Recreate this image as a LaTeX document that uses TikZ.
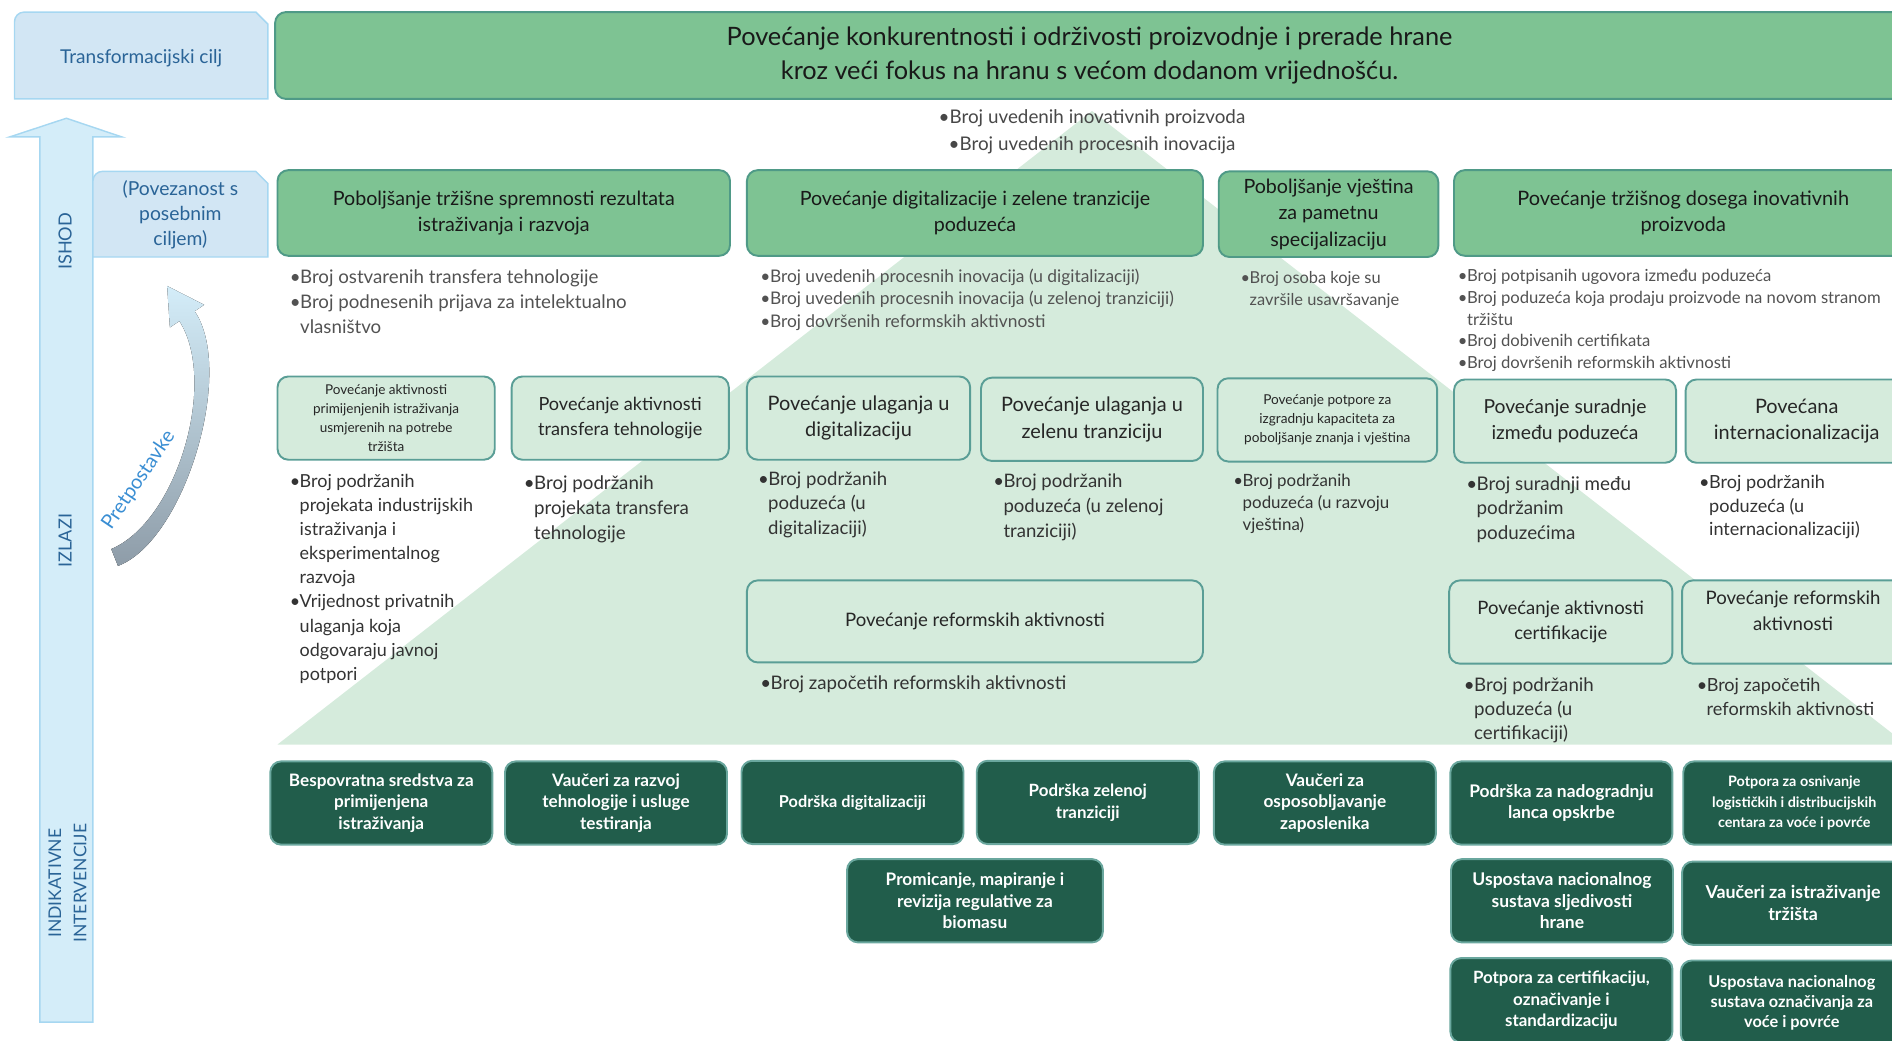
\documentclass[tikz,border=0pt]{standalone}
\usepackage{fontspec}
\setmainfont{Lato}
\usetikzlibrary{positioning}
\definecolor{skyfill}{HTML}{D2E6F4}
\definecolor{skyline}{HTML}{A6D7F1}
\definecolor{arrowfill}{HTML}{D4EDF9}
\definecolor{labelblue}{HTML}{2A6497}
\definecolor{pretblue}{HTML}{3A8ED3}
\definecolor{arrowtail}{HTML}{8E9CA8}
\definecolor{goalgreen}{HTML}{7EC393}
\definecolor{goalline}{HTML}{4F9A87}
\definecolor{palegreen}{HTML}{D5EBDC}
\definecolor{boxline}{HTML}{5A9E96}
\definecolor{actgreen}{HTML}{215D4B}
\definecolor{actline}{HTML}{6AA79E}
\newcommand{\fs}[2]{\fontsize{#1}{#2}\selectfont}
\newcommand{\bu}{\makebox[0.55em][l]{•}}
\newcommand{\ct}{\hspace*{0.55em}}

\begin{document}
\begin{tikzpicture}[x=1pt, y=-1pt,
  goalbox/.style={draw=goalline, fill=goalgreen, line width=1.6pt, rounded corners=9pt,
                  align=center, text=black!90, inner sep=0pt, minimum height=71pt},
  outbox/.style ={draw=boxline, fill=palegreen, line width=1.6pt, rounded corners=9pt,
                  align=center, text=black!85, inner sep=0pt, minimum width=182pt, minimum height=69pt},
  actbox/.style ={draw=actline, fill=actgreen, line width=1.6pt, rounded corners=9pt,
                  align=center, text=white, inner sep=0pt, minimum width=184pt, minimum height=69pt},
  ind/.style    ={anchor=north west, align=left, inner sep=0pt, text=black!80},
  softind/.style={ind, text=black!68},
  sidebox/.style={draw=skyline, fill=skyfill, line width=1.2pt},
  sidetxt/.style={text=labelblue, align=center, inner sep=0pt}
]
\useasboundingbox (0,0) rectangle (1568,862);
\clip (0,0) rectangle (1568,862);

% pyramid behind everything
\fill[palegreen] (230,617) -- (905,92) -- (1580,617) -- cycle;

% left column
\filldraw[sidebox] (12,82) -- (12,18) arc[start angle=180, end angle=270, radius=8]
  -- (212,10) -- (222,20) -- (222,82) -- cycle;
\node[sidetxt, font=\fs{15.8}{20}] (ciljlbl) at (117,48) {Transformacijski cilj};
\filldraw[draw=skyline, fill=arrowfill, line width=1.2pt] (33,847) -- (33,113.5) -- (8,113.5)
  -- (55,98) -- (101,113.5) -- (77,113.5) -- (77,847) -- cycle;
\filldraw[sidebox] (77,213) -- (77,150) arc[start angle=180, end angle=270, radius=8]
  -- (212,142) -- (222,152) -- (222,213) -- cycle;
\node[sidetxt, font=\fs{16}{20.5}] (vezalbl) at (149.5,178) {(Povezanost s\\posebnim\\ciljem)};
\node[sidetxt, rotate=90, font=\fs{15}{21}] (ishodlbl) at (54,200) {ISHOD};
\node[sidetxt, rotate=90, font=\fs{15}{21}] (izlazilbl) at (54,448) {IZLAZI};
\node[sidetxt, rotate=90, font=\fs{14.5}{21}] (intlbl) at (56,732) {INDIKATIVNE\\INTERVENCIJE};
\fill[top color=arrowfill, middle color=arrowfill, bottom color=arrowtail]
  (97.8,469) .. controls (153.2,448) and (195.2,307.3) .. (161.3,257.9) -- (169.2,252.6)
  -- (138.5,237) -- (140.8,271.4) -- (148.7,266.1) .. controls (180.8,316.7) and (146.8,432)
  .. (92.2,455) -- cycle;
\node[rotate=56, text=pretblue, inner sep=0pt, font=\fs{16.5}{18}] (pretlbl) at (115,398) {Pretpostavke};

% transformational goal
\node[goalbox, minimum width=1350pt, minimum height=72pt, font=\fs{21}{28}] (goal) at (903,46)
  {Povećanje konkurentnosti i održivosti proizvodnje i prerade hrane\\kroz veći fokus na hranu s većom dodanom vrijednošću.};
\node[align=center, inner sep=0pt, text=black!72, font=\fs{15.6}{22}] (goalind) at (905,109)
  {•Broj uvedenih inovativnih proizvoda\\•Broj uvedenih procesnih inovacija};

% ishod
\node[goalbox, minimum width=375pt, font=\fs{16.3}{22}] (ish1) at (417.5,176.5) {Poboljšanje tržišne spremnosti rezultata\\istraživanja i razvoja};
\node[goalbox, minimum width=378pt, font=\fs{16.3}{22}] (ish2) at (808,176.5) {Povećanje digitalizacije i zelene tranzicije\\poduzeća};
\node[goalbox, minimum width=182pt, font=\fs{16.3}{22}] (ish3) at (1101,177.5) {Poboljšanje vještina\\za pametnu\\specijalizaciju};
\node[goalbox, minimum width=380pt, font=\fs{16.5}{22}] (ish4) at (1395,176.5) {Povećanje tržišnog dosega inovativnih\\proizvoda};

\node[softind, font=\fs{15.5}{20.5}] (ish1ind) at (240,223.4) {\bu Broj ostvarenih transfera tehnologije\\\bu Broj podnesenih prijava za intelektualno\\\ct vlasništvo};
\node[softind, font=\fs{14.4}{18.5}] (ish2ind) at (630,222.8) {\bu Broj uvedenih procesnih inovacija (u digitalizaciji)\\\bu Broj uvedenih procesnih inovacija (u zelenoj tranziciji)\\\bu Broj dovršenih reformskih aktivnosti};
\node[softind, font=\fs{13.6}{18}] (ish3ind) at (1028,225) {\bu Broj osoba koje su\\\ct završile usavršavanje};
\node[softind, font=\fs{13.8}{18}] (ish4ind) at (1208,223) {\bu Broj potpisanih ugovora između poduzeća\\\bu Broj poduzeća koja prodaju proizvode na novom stranom\\\ct tržištu\\\bu Broj dobivenih certifikata\\\bu Broj dovršenih reformskih aktivnosti};

% izlazi
\node[outbox, minimum width=180pt, font=\fs{11.2}{15.7}] (izl1) at (320,346.5) {Povećanje aktivnosti\\primijenjenih istraživanja\\usmjerenih na potrebe\\tržišta};
\node[outbox, minimum width=180pt, font=\fs{15}{21}] (izl2) at (514,346.5) {Povećanje aktivnosti\\transfera tehnologije};
\node[outbox, minimum width=185pt, font=\fs{16.5}{22}] (izl3) at (711.5,346.5) {Povećanje ulaganja u\\digitalizaciju};
\node[outbox, minimum width=184pt, font=\fs{16.5}{22}] (izl4) at (905,347.5) {Povećanje ulaganja u\\zelenu tranziciju};
\node[outbox, font=\fs{11.3}{16}] (izl5) at (1100,348) {Povećanje potpore za\\izgradnju kapaciteta za\\poboljšanje znanja i vještina};
\node[outbox, minimum width=184pt, font=\fs{16}{21}] (izl6) at (1297,349) {Povećanje suradnje\\između poduzeća};
\node[outbox, minimum width=184pt, font=\fs{16.5}{21}] (izl7) at (1489,349) {Povećana\\internacionalizacija};
\node[outbox, minimum width=378pt, minimum height=68pt, font=\fs{15.4}{21}] (izl8) at (808,515) {Povećanje reformskih aktivnosti};
\node[outbox, minimum width=185pt, font=\fs{15.3}{21}] (izl9) at (1293.5,515.5) {Povećanje aktivnosti\\certifikacije};
\node[outbox, minimum width=184pt, font=\fs{15.4}{21}] (izl10) at (1486,515.5) {Povećanje reformskih\\aktivnosti\\[-2pt]\mbox{}};

\node[ind, font=\fs{14.9}{20}] (izl1ind) at (240,392.6) {\bu Broj podržanih\\\ct projekata industrijskih\\\ct istraživanja i\\\ct eksperimentalnog\\\ct razvoja\\\bu Vrijednost privatnih\\\ct ulaganja koja\\\ct odgovaraju javnoj\\\ct potpori};
\node[ind, font=\fs{15.5}{20.5}] (izl2ind) at (434,394.4) {\bu Broj podržanih\\\ct projekata transfera\\\ct tehnologije};
\node[ind, font=\fs{15.4}{20.5}] (izl3ind) at (628,390.5) {\bu Broj podržanih\\\ct poduzeća (u\\\ct digitalizaciji)};
\node[ind, font=\fs{15.4}{20.5}] (izl4ind) at (823,392.5) {\bu Broj podržanih\\\ct poduzeća (u zelenoj\\\ct tranziciji)};
\node[ind, font=\fs{14}{18}] (izl5ind) at (1022,393) {\bu Broj podržanih\\\ct poduzeća (u razvoju\\\ct vještina)};
\node[ind, font=\fs{15.6}{20.5}] (izl6ind) at (1215,394.4) {\bu Broj suradnji među\\\ct podržanim\\\ct poduzećima};
\node[ind, font=\fs{15}{19.5}] (izl7ind) at (1408,393.6) {\bu Broj podržanih\\\ct poduzeća (u\\\ct internacionalizaciji)};
\node[ind, font=\fs{15.5}{20}] (izl8ind) at (630,559.4) {\bu Broj započetih reformskih aktivnosti};
\node[ind, font=\fs{15.5}{20}] (izl9ind) at (1213,561.4) {\bu Broj podržanih\\\ct poduzeća (u\\\ct certifikaciji)};
\node[ind, font=\fs{15}{20}] (izl10ind) at (1406,561.6) {\bu Broj započetih\\\ct reformskih aktivnosti};

% indikativne intervencije
\node[actbox, font=\fs{14.2}{18}\bfseries] (akt1) at (316,665.5) {Bespovratna sredstva za\\primijenjena\\istraživanja};
\node[actbox, font=\fs{14.2}{18}\bfseries] (akt2) at (510.5,665.5) {Vaučeri za razvoj\\tehnologije i usluge\\testiranja};
\node[actbox, font=\fs{13.5}{18}\bfseries] (akt3) at (706.5,665) {Podrška digitalizaciji};
\node[actbox, font=\fs{14}{18}\bfseries] (akt4) at (901.5,665) {Podrška zelenoj\\tranziciji};
\node[actbox, font=\fs{14.3}{18}\bfseries] (akt5) at (1098,665.5) {Vaučeri za\\osposobljavanje\\zaposlenika};
\node[actbox, font=\fs{14.4}{18}\bfseries] (akt6) at (1294,665.5) {Podrška za nadogradnju\\lanca opskrbe};
\node[actbox, font=\fs{11.9}{17}\bfseries] (akt7) at (1487,665.5) {Potpora za osnivanje\\logističkih i distribucijskih\\centara za voće i povrće};
\node[actbox, minimum width=212pt, font=\fs{14.3}{18}\bfseries] (akt8) at (808,746.5) {Promicanje, mapiranje i\\revizija regulative za\\biomasu};
\node[actbox, font=\fs{14.5}{18}\bfseries] (akt9) at (1294.5,746.5) {Uspostava nacionalnog\\sustava sljedivosti\\hrane};
\node[actbox, font=\fs{14.8}{18}\bfseries] (akt10) at (1486,748.5) {Vaučeri za istraživanje\\tržišta};
\node[actbox, minimum height=70pt, font=\fs{14}{18}\bfseries] (akt11) at (1294,829) {Potpora za certifikaciju,\\označivanje i\\standardizaciju};
\node[actbox, minimum height=70pt, font=\fs{13.5}{16.5}\bfseries] (akt12) at (1485,831) {Uspostava nacionalnog\\sustava označivanja za\\voće i povrće};
\end{tikzpicture}
\end{document}
